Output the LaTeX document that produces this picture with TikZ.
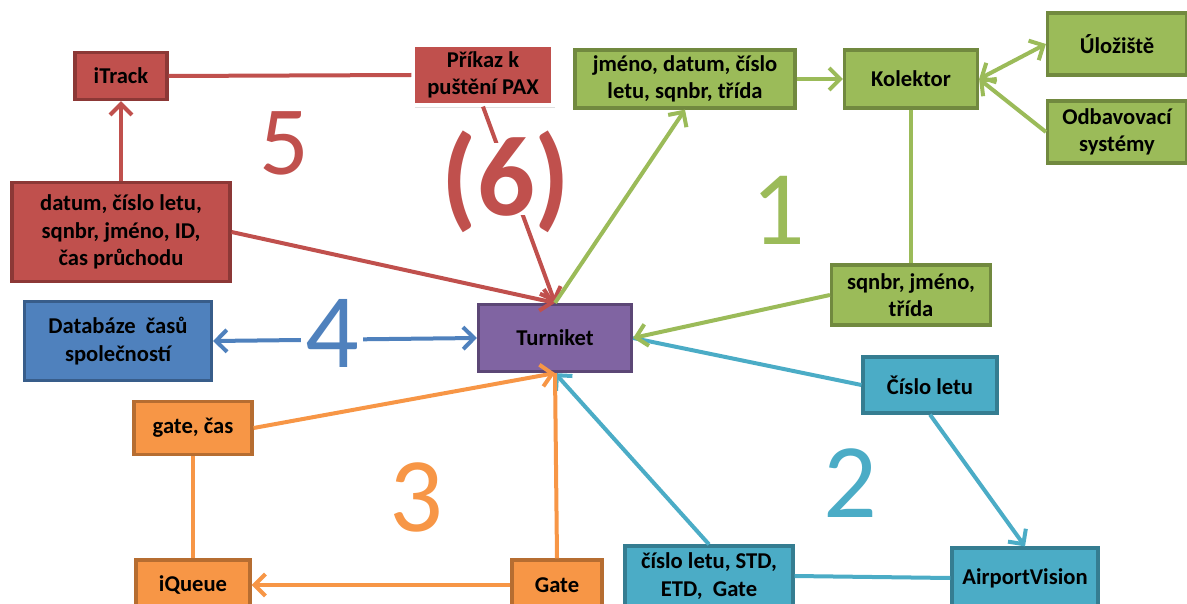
\documentclass[tikz,border=0pt]{standalone}
\usepackage{fontspec}
\setmainfont{Carlito}
\usetikzlibrary{arrows.meta,shadows}
\definecolor{rd}{HTML}{C0504D}
\definecolor{rdd}{HTML}{8C3836}
\definecolor{gr}{HTML}{9BBB59}
\definecolor{grd}{HTML}{71893F}
\definecolor{bl}{HTML}{4F81BD}
\definecolor{bld}{HTML}{385D8A}
\definecolor{pu}{HTML}{8064A2}
\definecolor{pud}{HTML}{5C4776}
\definecolor{cy}{HTML}{4BACC6}
\definecolor{cyd}{HTML}{357D91}
\definecolor{og}{HTML}{F79646}
\definecolor{ogd}{HTML}{B66D31}
\tikzset{
  box/.style={line width=1.6pt,align=center,inner sep=2pt,font=\bfseries\fontsize{11.3}{13.8}\selectfont},
  rbox/.style={box,fill=rd,draw=rdd},
  gbox/.style={box,fill=gr,draw=grd},
  bbox/.style={box,fill=bl,draw=bld},
  pbox/.style={box,fill=pu,draw=pud},
  cbox/.style={box,fill=cy,draw=cyd},
  obox/.style={box,fill=og,draw=ogd},
  ln/.style={line width=2pt},
  ar/.style={ln,-{Straight Barb[length=5.5pt,width=11pt]}},
  dar/.style={ln,{Straight Barb[length=5.5pt,width=11pt]}-{Straight Barb[length=5.5pt,width=11pt]}},
  num/.style={font=\fontsize{53}{53}\selectfont,inner sep=0pt},
}

\begin{document}
\begin{tikzpicture}[x=0.5pt,y=-0.5pt]
  \useasboundingbox (0,0) rectangle (1187,604);
  % group 5/6 (red)
  \node[rbox,minimum width=46pt,minimum height=23.5pt] (itrack) at (121,76) {iTrack};
  \node[rbox,draw=white,minimum width=70pt,minimum height=30pt,
        drop shadow={opacity=0.25,shadow xshift=1pt,shadow yshift=-1.5pt}] (prikaz) at (483,75) {Příkaz k\\puštění PAX};
  \node[rbox,minimum width=109pt,minimum height=49.5pt] (datum) at (121,232) {datum, číslo letu,\\sqnbr, jméno, ID,\\čas průchodu};
  % group 4 (blue)
  \node[bbox,minimum width=93.5pt,minimum height=39.5pt] (dbcas) at (118,341) {Databáze\ \ časů\\společností};
  % center
  \node[pbox,minimum width=76.5pt,minimum height=33.5pt] (turn) at (555,338) {Turniket};
  % group 1 (green)
  \node[gbox,minimum width=110pt,minimum height=29pt] (jmeno) at (685,79) {jméno, datum, číslo\\letu, sqnbr, třída};
  \node[gbox,minimum width=66.5pt,minimum height=29pt] (kol) at (911,79) {Kolektor};
  \node[gbox,minimum width=69.5pt,minimum height=31pt] (ulo) at (1117,44) {Úložiště};
  \node[gbox,minimum width=69.5pt,minimum height=31pt] (odb) at (1117,132) {Odbavovací\\systémy};
  \node[gbox,minimum width=79.5pt,minimum height=30pt] (sqn) at (911,295) {sqnbr, jméno,\\třída};
  % group 2 (cyan)
  \node[cbox,minimum width=67pt,minimum height=28pt] (cislo) at (930,385) {Číslo letu};
  \node[cbox,minimum width=73pt,minimum height=30pt] (av) at (1025,578) {AirportVision};
  \node[cbox,minimum width=84pt,minimum height=30pt] (std) at (709,576) {číslo letu, STD,\\ETD,\ \ Gate};
  % group 3 (orange)
  \node[obox,minimum width=59pt,minimum height=26.5pt] (gcas) at (193,428) {gate, čas};
  \node[obox,minimum width=57pt,minimum height=25pt] (iq) at (193,585) {iQueue};
  \node[obox,minimum width=45pt,minimum height=25pt] (gate) at (557,585) {Gate};

  % connectors
  \draw[ln,rd] (itrack.east) -- (prikaz.west);
  \draw[ar,rd] (datum.north) -- (itrack.south);
  \draw[ar,rd] (datum.east) -- (turn.north);
  \draw[ar,rd] (prikaz.south) -- (turn.north);
  \draw[ar,gr] (turn.north) -- (jmeno.south);
  \draw[ar,gr] (jmeno.east) -- (kol.west);
  \draw[dar,gr] (kol.east) -- (ulo.west);
  \draw[ar,gr] (odb.west) -- (kol.east);
  \draw[ln,gr] (kol.south) -- (sqn.north);
  \draw[ln,cy] (turn.east) -- (cislo.west);
  \draw[ar,gr] (sqn.west) -- (turn.east);
  \draw[ar,cy] (cislo.south) -- (av.north);
  \draw[ln,cy] (av.west) -- (std.east);
  \draw[ar,cy] (std.north) -- (turn.south);
  \draw[dar,bl] (dbcas.east) -- (turn.west);
  \draw[ar,og] (gcas.east) -- (turn.south);
  \draw[ln,og] (gcas.south) -- (iq.north);
  \draw[ar,og] (gate.west) -- (iq.east);
  \draw[ln,og] (gate.north) -- (turn.south);

  % group numbers
  \node[num,text=rd,font=\fontsize{49}{49}\selectfont] (n5) at (284,143) {5};
  \node[num,text=rd,fill=white,text height=36pt,text depth=0pt,
        font=\bfseries\fontsize{57}{57}\selectfont] (n6) at (506,179) {(6)};
  \node[num,text=gr] (n1) at (778,210) {1};
  \node[num,text=bl,fill=white,inner xsep=2pt] (n4) at (332,333) {4};
  \node[num,text=og] (n3) at (416,497) {3};
  \node[num,text=cy] (n2) at (850,483) {2};
\end{tikzpicture}
\end{document}
